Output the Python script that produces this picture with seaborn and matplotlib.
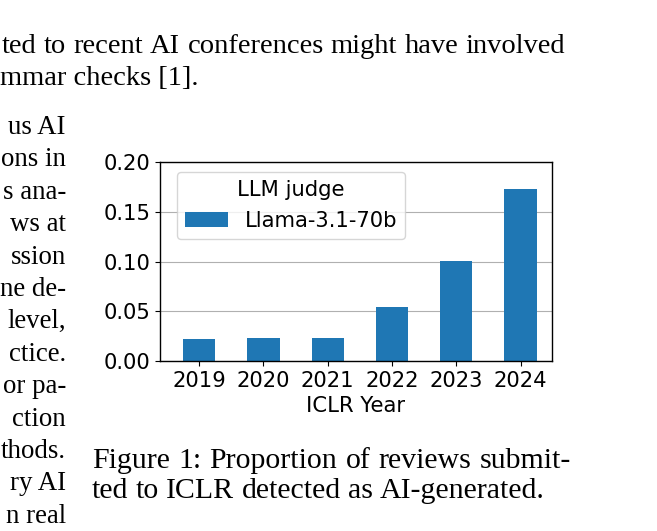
"""
Bar chart of ICLR reviews flagged as AI-generated, placed inside a paper page crop.
"""

import matplotlib
matplotlib.use("Agg")
import matplotlib.pyplot as plt
import seaborn as sns

# Data
years = ["2019", "2020", "2021", "2022", "2023", "2024"]
proportion = [0.0224, 0.0236, 0.0228, 0.0545, 0.1003, 0.1730]
judge = ["Llama-3.1-70b"] * len(years)
yticks = [0.0, 0.05, 0.10, 0.15, 0.20]

# Surrounding paper text (visible fragments)
top_lines = ["ted to recent AI conferences might have involved",
             "mmar checks [1]."]
side_lines = ["us AI", "ons in", "s ana-", "ws at", "ssion", "ne de-", "level,",
              "ctice.", "or pa-", "ction", "thods.", "ry AI", "n real"]
caption_lines = ["Figure 1: Proportion of reviews submit-",
                 "ted to ICLR detected as AI-generated."]

W, H = 657, 531
fig = plt.figure(figsize=(W / 100, H / 100), dpi=100)

# Chart
ax = fig.add_axes([160 / W, 1 - 361 / H, 392 / W, 199 / H])
sns.barplot(x=years, y=proportion, hue=judge, palette=["#1f77b4"],
            width=0.5, saturation=1, dodge=False, linewidth=0, ax=ax)
ax.set_xlim(-0.61, 5.49)
ax.set_ylim(0, 0.20)
ax.set_yticks(yticks)
ax.set_yticklabels([f"{t:.2f}" for t in yticks])
ax.yaxis.grid(True, color="#b0b0b0", linewidth=0.8)
ax.set_axisbelow(True)
ax.tick_params(labelsize=15.2)
ax.set_xlabel("ICLR Year", fontsize=15.2)
ax.set_ylabel("")
for s in ax.spines.values():
    s.set_color("black")
    s.set_linewidth(1.0)
ax.legend(title="LLM judge", loc="upper left", bbox_to_anchor=(0.043, 0.95),
          borderaxespad=0, fontsize=15.2, title_fontsize=15.2)

# Paper text around the figure
serif = dict(family="Liberation Serif", fontsize=20.5, color="black", va="baseline")
renderer = fig.canvas.get_renderer()


def justified(line, x0, x1, y, style):
    """Spread the words of one line so it fills x0..x1 (pixels)."""
    words = line.split(" ")
    texts = [fig.text(0, 1 - y / H, w, ha="left", **style) for w in words]
    widths = [t.get_window_extent(renderer).width for t in texts]
    gap = (x1 - x0 - sum(widths)) / max(len(words) - 1, 1)
    x = x0
    for t, w in zip(texts, widths):
        t.set_x(x / W)
        x += w + gap


justified(top_lines[0], 2, 565, 53, serif)
fig.text(0 / W, 1 - 85 / H, top_lines[1], ha="left", **serif)

side = dict(serif, fontsize=19.4)
for i, line in enumerate(side_lines):
    fig.text(66 / W, 1 - (134 + i * 32.4) / H, line, ha="right", **side)

cap = dict(serif, fontsize=21.5)
justified(caption_lines[0], 92, 571, 468, cap)
justified(caption_lines[1], 92, 545, 498, cap)

fig.savefig("out.png", dpi=100)
